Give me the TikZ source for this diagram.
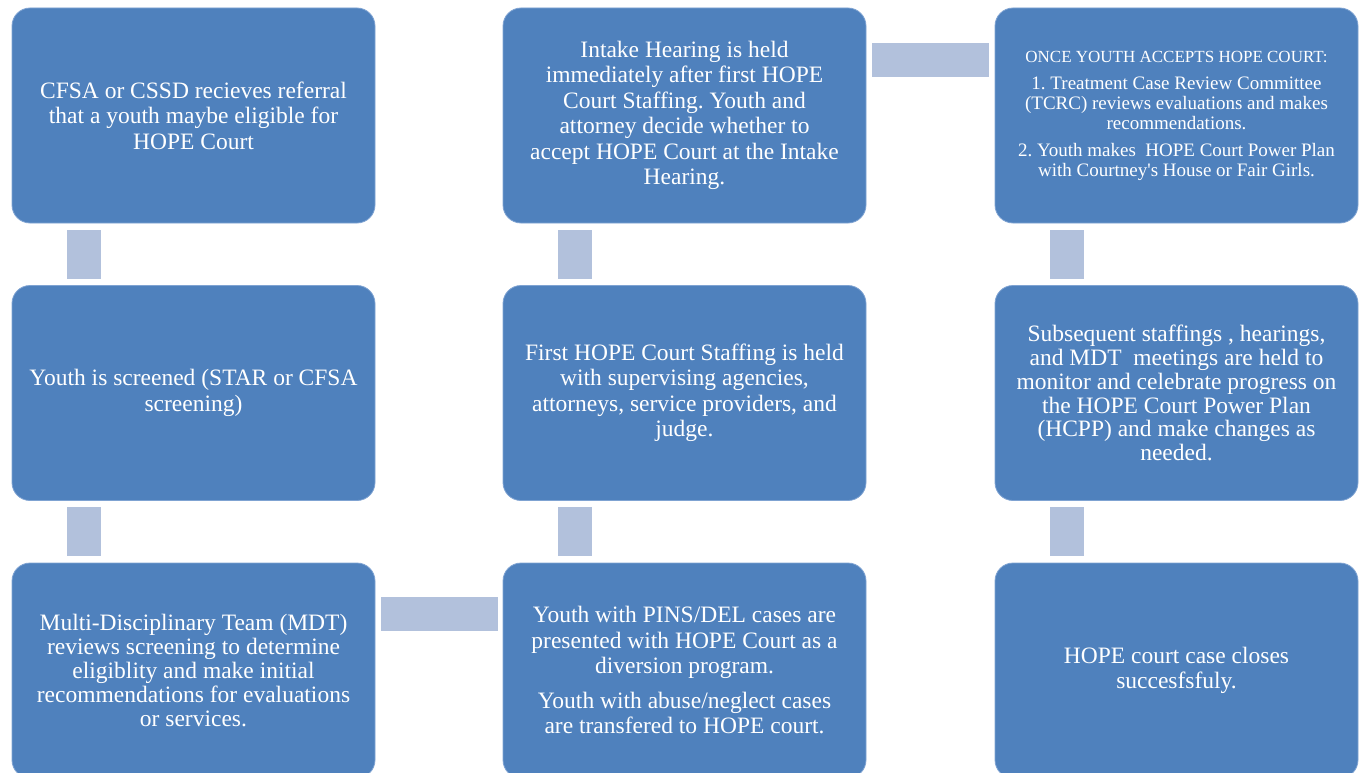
\documentclass[tikz,border=0pt]{standalone}
\usepackage{fontspec}
\setmainfont{Liberation Serif}
\frenchspacing
\definecolor{boxblue}{HTML}{4F81BD}
\definecolor{boxedge}{HTML}{7FA3D2}
\definecolor{conn}{HTML}{B2C1DC}
\tikzset{
  box/.style={rectangle, rounded corners=18pt, fill=boxblue, draw=boxedge, line width=0.8pt,
    minimum width=363pt, minimum height=215pt, text=white, align=center, inner sep=0pt,
    font=\fontsize{23.5}{25.5}\selectfont},
  tightbox/.style={box, font=\fontsize{23.5}{23.8}\selectfont},
  smallbox/.style={box, font=\fontsize{19}{20}\selectfont},
  vconn/.style={rectangle, fill=conn, draw=none, minimum width=34pt, minimum height=49pt, inner sep=0pt},
  hconn/.style={rectangle, fill=conn, draw=none, minimum width=117pt, minimum height=34pt, inner sep=0pt}
}
\begin{document}
\begin{tikzpicture}[x=1pt,y=-1pt]
\useasboundingbox (0,0) rectangle (1359,773);
\clip (0,0) rectangle (1359,773);
% column 1
\node[box] (b11) at (193.5,115.5) {CFSA or CSSD recieves referral\\that a youth maybe eligible for\\HOPE Court};
\node[box] (b12) at (193.5,393) {Youth is screened (STAR or CFSA\\screening)};
\node[tightbox] (b13) at (193.5,670.5) {Multi-Disciplinary Team (MDT)\\reviews screening to determine\\eligiblity and make initial\\recommendations for evaluations\\or services.};
% column 2
\node[box] (b21) at (684.5,115.5) {Intake Hearing is held\\immediately after first HOPE\\Court Staffing. Youth and\\attorney decide whether to\\accept HOPE Court at the Intake\\Hearing.};
\node[box] (b22) at (684.5,393) {First HOPE Court Staffing is held\\with supervising agencies,\\attorneys, service providers, and\\judge.};
\node[box] (b23) at (684.5,670.5) {Youth with PINS/DEL cases are\\presented with HOPE Court as a\\diversion program.\\[9pt]Youth with abuse/neglect cases\\are transfered to HOPE court.};
% column 3
\node[smallbox] (b31) at (1176.5,115.5) {{\fontsize{17}{20}\selectfont ONCE YOUTH ACCEPTS HOPE COURT:}\\[7pt]1. Treatment Case Review Committee\\(TCRC) reviews evaluations and makes\\recommendations.\\[7pt]2. Youth makes\ \ HOPE Court Power Plan\\with Courtney\textquotesingle s House or Fair Girls.};
\node[tightbox] (b32) at (1176.5,393) {Subsequent staffings , hearings,\\and MDT\ \ meetings are held to\\monitor and celebrate progress on\\the HOPE Court Power Plan\\(HCPP) and make changes as\\needed.};
\node[box] (b33) at (1176.5,670.5) {HOPE court case closes\\succesfsfuly.};
% connectors
\node[vconn] (c1) at (83.5,254.5) {};
\node[vconn] (c2) at (83.5,531.5) {};
\node[hconn] (c3) at (439.5,614) {};
\node[vconn] (c4) at (574.5,531.5) {};
\node[vconn] (c5) at (574.5,254.5) {};
\node[hconn] (c6) at (930.5,60) {};
\node[vconn] (c7) at (1067,254.5) {};
\node[vconn] (c8) at (1067,531.5) {};
\end{tikzpicture}
\end{document}
